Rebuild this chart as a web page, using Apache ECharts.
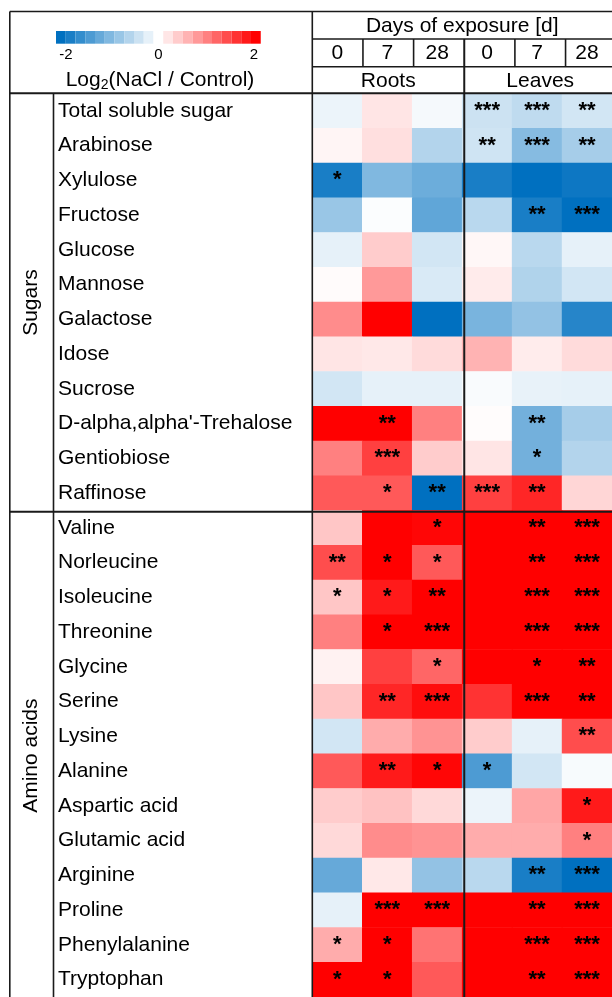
<!DOCTYPE html>
<html>
<head>
<meta charset="utf-8">
<script src="https://cdn.jsdelivr.net/npm/echarts@6/dist/echarts.min.js"></script>
<style>
html,body{margin:0;padding:0;background:#fff;}
#chart{width:612px;height:997px;}
</style>
</head>
<body>
<div id="chart"></div>
<script>
// ---------------- DATA ----------------
const rowNames = [
  'Total soluble sugar','Arabinose','Xylulose','Fructose','Glucose','Mannose',
  'Galactose','Idose','Sucrose',"D-alpha,alpha'-Trehalose",'Gentiobiose','Raffinose',
  'Valine','Norleucine','Isoleucine','Threonine','Glycine','Serine','Lysine',
  'Alanine','Aspartic acid','Glutamic acid','Arginine','Proline','Phenylalanine','Tryptophan'
];
const dayLabels = ['0','7','28','0','7','28'];
const tissueLabels = ['Roots','Leaves'];
const groupLabels = ['Sugars','Amino acids'];
const groupSizes = [12, 14];
const colorbarTicks = [-2, 0, 2];

// log2(NaCl/Control), columns: Roots 0,7,28 | Leaves 0,7,28
const log2Values = [
  [-0.15, 0.20, -0.08, -0.40, -0.50, -0.35],
  [ 0.08, 0.25, -0.60, -0.38, -0.95, -0.70],
  [-1.80,-1.00, -1.15, -1.80, -2.20, -1.90],
  [-0.80,-0.03, -1.25, -0.55, -1.80, -2.10],
  [-0.20, 0.40, -0.35,  0.06, -0.55, -0.20],
  [ 0.03, 0.80, -0.30,  0.16, -0.62, -0.35],
  [ 0.90, 2.00, -2.00, -1.05, -0.85, -1.70],
  [ 0.20, 0.18,  0.28,  0.60,  0.15,  0.28],
  [-0.35,-0.20, -0.20, -0.05, -0.18, -0.20],
  [ 2.00, 2.00,  1.00,  0.02, -1.10, -0.70],
  [ 1.00, 1.50,  0.40,  0.20, -1.10, -0.60],
  [ 1.30, 1.30, -2.00,  1.50,  1.70,  0.32],
  [ 0.45, 2.00,  1.95,  2.00,  2.00,  2.00],
  [ 1.40, 2.00,  1.30,  2.00,  2.00,  2.00],
  [ 0.45, 1.80,  2.00,  2.00,  2.00,  2.00],
  [ 1.00, 2.00,  2.00,  2.00,  2.00,  2.00],
  [ 0.10, 1.50,  1.20,  2.00,  2.00,  2.00],
  [ 0.45, 1.70,  1.90,  1.60,  2.00,  2.00],
  [-0.35, 0.65,  0.85,  0.40, -0.20,  1.40],
  [ 1.30, 1.80,  1.95, -1.40, -0.35, -0.06],
  [ 0.40, 0.48,  0.30, -0.15,  0.70,  1.80],
  [ 0.30, 0.90,  0.85,  0.65,  0.65,  1.00],
  [-1.20, 0.18, -0.85, -0.55, -1.80, -2.00],
  [-0.20, 2.00,  2.00,  2.00,  2.00,  2.00],
  [ 0.65, 2.00,  1.10,  2.00,  2.00,  2.00],
  [ 2.00, 2.00,  1.30,  2.00,  2.00,  2.00]
];
const significance = [
  ['','','','***','***','**'],
  ['','','','**','***','**'],
  ['*','','','','',''],
  ['','','','','**','***'],
  ['','','','','',''],
  ['','','','','',''],
  ['','','','','',''],
  ['','','','','',''],
  ['','','','','',''],
  ['','**','','','**',''],
  ['','***','','','*',''],
  ['','*','**','***','**',''],
  ['','','*','','**','***'],
  ['**','*','*','','**','***'],
  ['*','*','**','','***','***'],
  ['','*','***','','***','***'],
  ['','','*','','*','**'],
  ['','**','***','','***','**'],
  ['','','','','','**'],
  ['','**','*','*','',''],
  ['','','','','','*'],
  ['','','','','','*'],
  ['','','','','**','***'],
  ['','***','***','','**','***'],
  ['*','*','','','***','***'],
  ['*','*','','','**','***']
];

// ---------------- LAYOUT / STYLE ----------------
const FONT = 'Liberation Sans, Arial, sans-serif';
const GL = 312.3, GT = 93.5, CW = 50.65, CH = 34.85;
const NR = rowNames.length, NC = dayLabels.length;
const GW = CW * NC, GH = CH * NR;
const BLUE = [0, 112, 192], RED = [255, 0, 0];
function mix(c, t){ // t in [0,1] from white to c
  const r = Math.round(255 + (c[0]-255)*t), g = Math.round(255 + (c[1]-255)*t), b = Math.round(255 + (c[2]-255)*t);
  return 'rgb(' + r + ',' + g + ',' + b + ')';
}
// stepped colour key: 21 steps of 0.2 from -2 to 2
const pieces = [];
for (let i = 0; i <= 20; i++) {
  const c = Math.round((-2 + i * 0.2) * 10) / 10;
  const p = {};
  if (i > 0) p.gte = Math.round((c - 0.1) * 10) / 10;
  if (i < 20) p.lt = Math.round((c + 0.1) * 10) / 10;
  p.color = c < 0 ? mix(BLUE, -c/2) : mix(RED, c/2);
  pieces.push(p);
}

const heatData = [];
log2Values.forEach((row, r) => row.forEach((v, c) => heatData.push([c, r, v])));

const LINE = {stroke: '#1a1a1a', lineWidth: 1.6};
const graphics = [];
function hline(x1, x2, y, w){ graphics.push({type:'line', shape:{x1:x1,y1:y,x2:x2,y2:y}, style:Object.assign({}, LINE, w?{lineWidth:w}:{}), z:100}); }
function vline(x, y1, y2, w){ graphics.push({type:'line', shape:{x1:x,y1:y1,x2:x,y2:y2}, style:Object.assign({}, LINE, w?{lineWidth:w}:{}), z:100}); }
const TOP = 11.5, LEFT = 9.8, RIGHT = GL + GW, BOTTOM = GT + GH;
const ROW1 = 39, ROW2 = 66.8;
hline(LEFT, RIGHT, TOP);
hline(GL, RIGHT, ROW1);
hline(GL, RIGHT, ROW2);
hline(LEFT, RIGHT, GT - 0.3, 2);
hline(LEFT, RIGHT, GT + groupSizes[0]*CH, 2);
vline(LEFT, TOP, BOTTOM + 5);
vline(53.5, GT, BOTTOM + 5);
vline(GL, TOP, BOTTOM + 5);
vline(GL + 3*CW, ROW1, BOTTOM + 5, 2);
for (let c = 1; c < NC; c++) if (c !== 3) vline(GL + c*CW, ROW1, ROW2);

// header texts
graphics.push({type:'text', style:{text:'Days of exposure [d]', x:GL+GW/2 - 2, y:(TOP+ROW1)/2 + 1, align:'center', verticalAlign:'middle', font:'21px ' + FONT, fill:'#000'}});
tissueLabels.forEach((t, i) => graphics.push({type:'text', style:{text:t, x:GL + (i*3+1.5)*CW, y:(ROW2+GT)/2 + 1, align:'center', verticalAlign:'middle', font:'21px ' + FONT, fill:'#000'}}));
// group labels (rotated)
let acc = 0;
groupLabels.forEach((g, i) => {
  const cy = GT + (acc + groupSizes[i]/2) * CH;
  acc += groupSizes[i];
  graphics.push({type:'text', x:31, y:cy, rotation:Math.PI/2, style:{text:g, x:0, y:0, align:'center', verticalAlign:'middle', font:'21px ' + FONT, fill:'#000'}});
});
// colorbar ticks + title
const CB_X0 = 56, CB_STEP = 9.75;
colorbarTicks.forEach(t => {
  const x = CB_X0 + (10 + t*5 + 0.5) * CB_STEP + (t < 0 ? 5 : (t > 0 ? -2 : 0));
  graphics.push({type:'text', style:{text:String(t), x:x, y:55, align:'center', verticalAlign:'middle', font:'15px ' + FONT, fill:'#000'}});
});
graphics.push({type:'text', style:{
  text:'{a|Log}{s|2}{a|(NaCl / Control)}', x:160, y:80, align:'center', verticalAlign:'middle',
  rich:{a:{fontSize:21, fontFamily:FONT, fill:'#000', lineHeight:26, verticalAlign:'middle'},
        s:{fontSize:14, fontFamily:FONT, fill:'#000', lineHeight:26, padding:[10,0,0,0], verticalAlign:'middle'}}
}});

const chart = echarts.init(document.getElementById('chart'), null, {renderer:'canvas'});
chart.setOption({
  animation:false,
  backgroundColor:'#fff',
  grid:{left:GL, top:GT, width:GW, height:GH, containLabel:false},
  xAxis:{type:'category', data:dayLabels, position:'top',
    axisLine:{show:false}, axisTick:{show:false}, splitLine:{show:false},
    axisLabel:{margin:40, verticalAlign:'middle', fontSize:21, fontFamily:FONT, color:'#000', interval:0}},
  yAxis:{type:'category', data:rowNames, inverse:true,
    axisLine:{show:false}, axisTick:{show:false}, splitLine:{show:false},
    axisLabel:{margin:GL-58, align:'left', fontSize:21, fontFamily:FONT, color:'#000', interval:0}},
  visualMap:[
    {type:'continuous', show:false, min:-2, max:2, seriesIndex:0, dimension:2,
     inRange:{color:[mix(BLUE,1), '#ffffff', mix(RED,1)]}},
    {type:'piecewise', pieces:pieces, orient:'horizontal', left:CB_X0, top:31,
     itemWidth:CB_STEP, itemHeight:12.7, itemGap:0, itemSymbol:'rect', showLabel:false,
     padding:0, selectedMode:false, hoverLink:false, seriesIndex:[], textStyle:{fontSize:0}}
  ],
  series:[{type:'heatmap', data:heatData, itemStyle:{borderWidth:0},
    label:{show:true, formatter:p => significance[p.data[1]][p.data[0]],
      fontSize:22, fontWeight:'bold', fontFamily:FONT, color:'#000', offset:[0,0]},
    emphasis:{disabled:true}}],
  graphic:graphics
});
</script>
</body>
</html>
